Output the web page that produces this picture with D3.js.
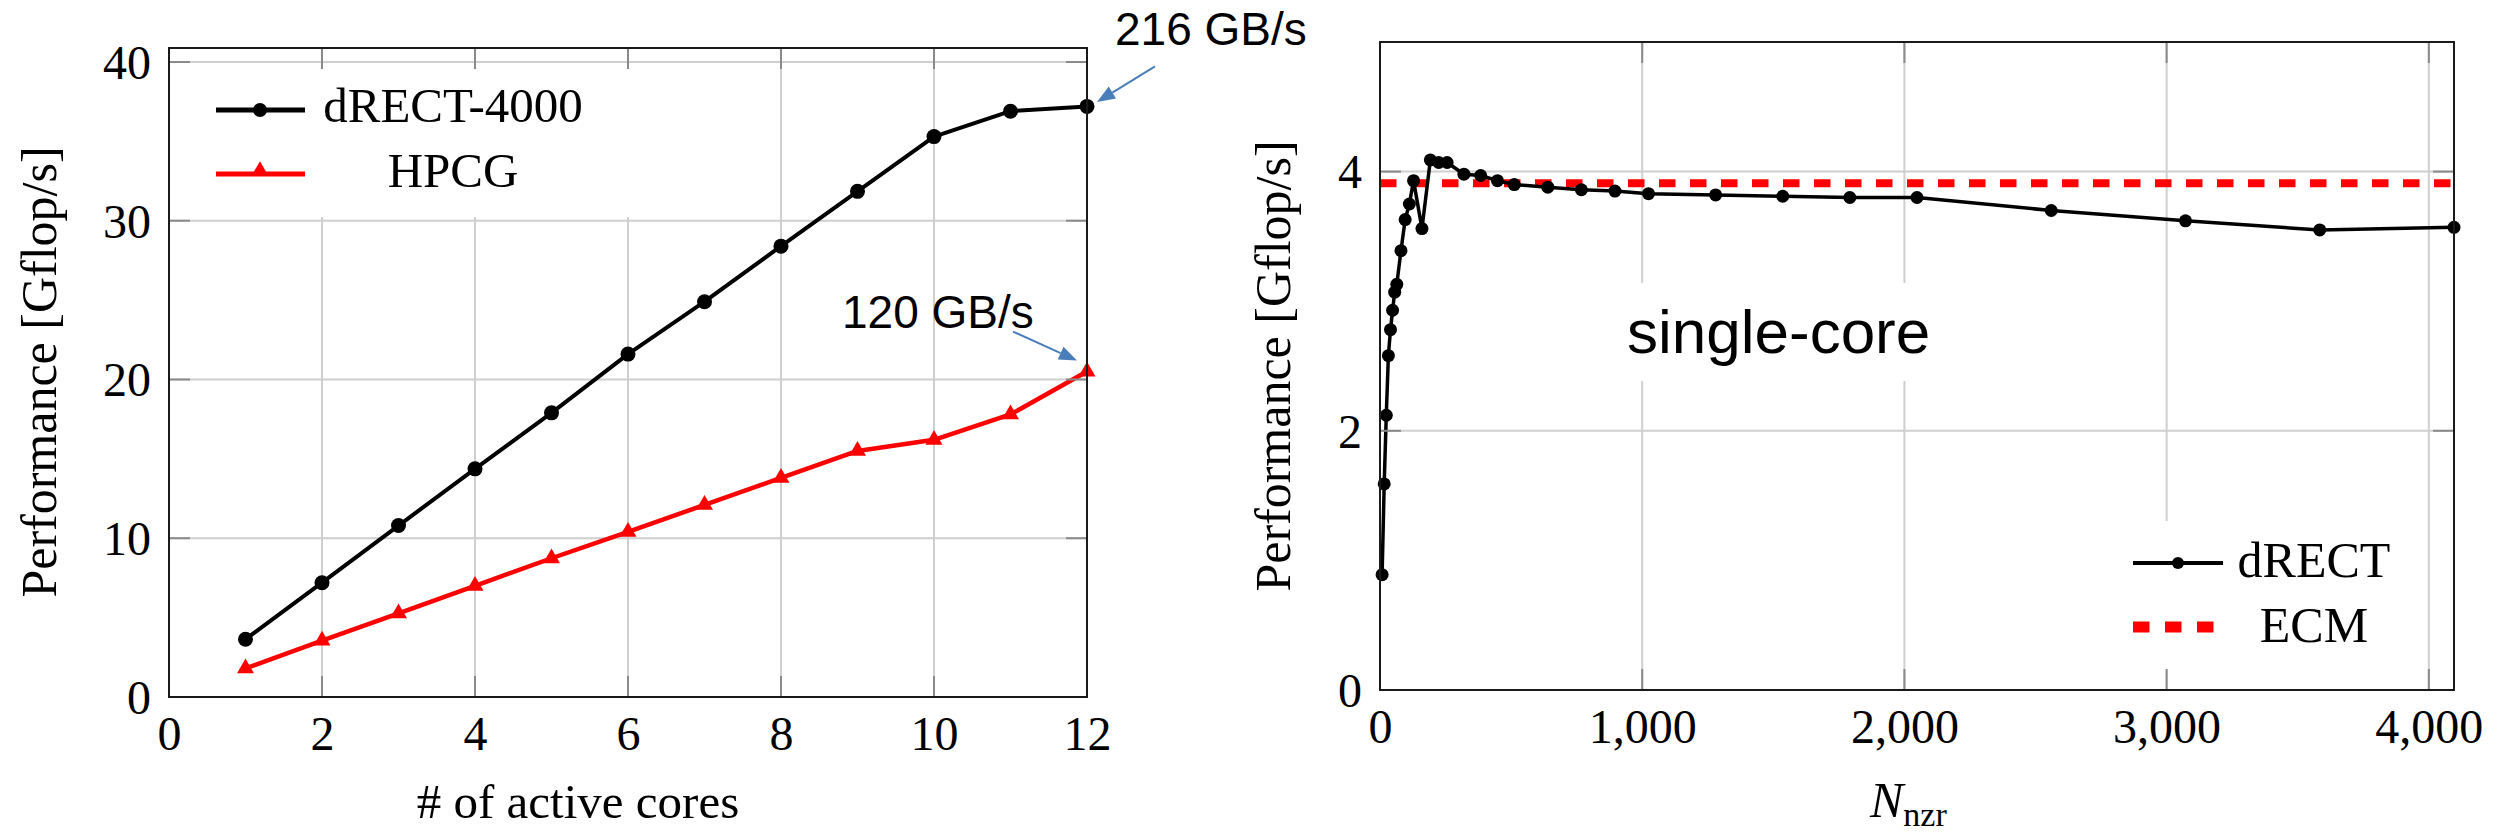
<!DOCTYPE html>
<html>
<head>
<meta charset="utf-8">
<script src="https://cdn.jsdelivr.net/npm/d3@7/dist/d3.min.js"></script>
<style>
  html, body { margin: 0; padding: 0; background: #fff; }
  svg { display: block; }
</style>
</head>
<body>
<script>
// ---------------- DATA ----------------
// Left chart: performance vs. number of active cores
const cores = [1, 2, 3, 4, 5, 6, 7, 8, 9, 10, 11, 12];
const drect4000 = [3.64, 7.2, 10.8, 14.37, 17.9, 21.6, 24.9, 28.4, 31.85, 35.3, 36.9, 37.2];
const hpcg = [1.8, 3.55, 5.27, 7.0, 8.74, 10.4, 12.1, 13.8, 15.5, 16.2, 17.8, 20.5];
const leftXTicks = [0, 2, 4, 6, 8, 10, 12];
const leftYTicks = [0, 10, 20, 30, 40];
const leftLegend = ["dRECT-4000", "HPCG"];
const leftAnnotations = ["216 GB/s", "120 GB/s"];

// Right chart: single-core performance vs N_nzr
const nnzr = [8, 16, 24, 32, 40, 48, 56, 64, 80, 96, 112, 128, 160, 192, 224, 256, 320, 384, 448, 512,
              640, 768, 896, 1024, 1280, 1536, 1792, 2048, 2560, 3072, 3584, 4096];
const drect = [0.89, 1.59, 2.12, 2.58, 2.78, 2.93, 3.07, 3.13, 3.39, 3.63, 3.75, 3.93, 3.56, 4.09, 4.07, 4.07,
               3.98, 3.97, 3.93, 3.90, 3.88, 3.86, 3.85, 3.83, 3.82, 3.81, 3.80, 3.80, 3.70, 3.62, 3.55, 3.57];
const ecm = 3.91;
const rightXTicks = [0, 1000, 2000, 3000, 4000];
const rightYTicks = [0, 2, 4];
const rightLegend = ["dRECT", "ECM"];
const rightNote = "single-core";

// ---------------- SETUP ----------------
const W = 2499, H = 839;
const SERIF = "'Liberation Serif', 'Times New Roman', serif";
const SANS = "'Liberation Sans', Arial, sans-serif";
const GRID = "#cfcfcf", TICK = "#8a8a8a", FRAME = "#1a1a1a", BLUE = "#4a7ebb";
const TICKLEN = 21;

const svg = d3.select("body").append("svg").attr("width", W).attr("height", H);
svg.append("rect").attr("width", W).attr("height", H).attr("fill", "#fff");

function frameAndTicks(g, x, y, xt, yt, fmtX) {
  const [x0, x1] = x.range(), [y0, y1] = y.range();
  const tg = g.append("g").attr("stroke", TICK).attr("stroke-width", 2);
  xt.forEach(v => {
    const px = x(v);
    if (Math.abs(px - x0) < 2 || Math.abs(px - x1) < 2) return;
    tg.append("line").attr("x1", px).attr("x2", px).attr("y1", y0).attr("y2", y0 - TICKLEN);
    tg.append("line").attr("x1", px).attr("x2", px).attr("y1", y1).attr("y2", y1 + TICKLEN);
  });
  yt.forEach(v => {
    const py = y(v);
    if (Math.abs(py - y0) < 2 || Math.abs(py - y1) < 2) return;
    tg.append("line").attr("x1", x0).attr("x2", x0 + TICKLEN).attr("y1", py).attr("y2", py);
    tg.append("line").attr("x1", x1).attr("x2", x1 - TICKLEN).attr("y1", py).attr("y2", py);
  });
  g.append("rect").attr("x", x0).attr("y", y1).attr("width", x1 - x0).attr("height", y0 - y1)
    .attr("fill", "none").attr("stroke", FRAME).attr("stroke-width", 2);

  const ax = g.append("g").attr("transform", `translate(0,${y0})`)
    .call(d3.axisBottom(x).tickValues(xt).tickFormat(fmtX).tickSize(0).tickPadding(0));
  ax.select(".domain").remove();
  ax.selectAll("text").attr("font-family", SERIF).attr("font-size", 48).attr("fill", "#000")
    .attr("dy", null).attr("y", 53);
  const ay = g.append("g").attr("transform", `translate(${x0},0)`)
    .call(d3.axisLeft(y).tickValues(yt).tickFormat(d3.format("d")).tickSize(0).tickPadding(0));
  ay.select(".domain").remove();
  ay.selectAll("text").attr("font-family", SERIF).attr("font-size", 48).attr("fill", "#000")
    .attr("x", -18).attr("dy", "0.34em");
}

function grid(g, x, y, xt, yt) {
  const [x0, x1] = x.range(), [y0, y1] = y.range();
  const gg = g.append("g").attr("stroke", GRID).attr("stroke-width", 2);
  xt.forEach(v => { const px = x(v); if (px > x0 + 2 && px < x1 - 2)
    gg.append("line").attr("x1", px).attr("x2", px).attr("y1", y0).attr("y2", y1); });
  yt.forEach(v => { const py = y(v); if (py < y0 - 2 && py > y1 + 2)
    gg.append("line").attr("x1", x0).attr("x2", x1).attr("y1", py).attr("y2", py); });
}

// ---------------- LEFT CHART ----------------
const xL = d3.scaleLinear().domain([0, 12]).range([169, 1087]);
const yL = d3.scaleLinear().domain([0, 40.88]).range([697, 48]);
const gL = svg.append("g");
grid(gL, xL, yL, leftXTicks, leftYTicks);
gL.append("rect").attr("x", 171).attr("y", 67).attr("width", 462).attr("height", 150).attr("fill", "#fff");

const lineL = d3.line().x((d, i) => xL(cores[i])).y(d => yL(d));
gL.append("path").datum(hpcg).attr("d", lineL).attr("fill", "none").attr("stroke", "#ff0000")
  .attr("stroke-width", 4.5).attr("stroke-linejoin", "round");
const tri = d3.symbol().type(d3.symbolTriangle).size(125);
gL.selectAll(".tri").data(hpcg).join("path").attr("d", tri)
  .attr("transform", (d, i) => `translate(${xL(cores[i])},${yL(d)})`).attr("fill", "#ff0000");
gL.append("path").datum(drect4000).attr("d", lineL).attr("fill", "none").attr("stroke", "#000")
  .attr("stroke-width", 4).attr("stroke-linejoin", "round");
gL.selectAll(".dot").data(drect4000).join("circle").attr("cx", (d, i) => xL(cores[i]))
  .attr("cy", d => yL(d)).attr("r", 7.5).attr("fill", "#000");

frameAndTicks(gL, xL, yL, leftXTicks, leftYTicks, d3.format("d"));

const legL = gL.append("g");
[[110, 122, "#000", "circle"], [174, 187, "#ff0000", "tri"]].forEach((s, i) => {
  legL.append("line").attr("x1", 216).attr("x2", 305).attr("y1", s[0]).attr("y2", s[0])
    .attr("stroke", s[2]).attr("stroke-width", 5);
  if (s[3] === "circle") legL.append("circle").attr("cx", 260).attr("cy", s[0]).attr("r", 7).attr("fill", "#000");
  else legL.append("path").attr("d", tri).attr("transform", `translate(260,${s[0] - 3})`).attr("fill", "#ff0000");
  legL.append("text").attr("x", 453).attr("y", s[1]).attr("text-anchor", "middle")
    .attr("font-family", SERIF).attr("font-size", 49).text(leftLegend[i]);
});

gL.append("text").attr("transform", "translate(56,372) rotate(-90)").attr("text-anchor", "middle")
  .attr("font-family", SERIF).attr("font-size", 50).text("Performance [Gflop/s]");
gL.append("text").attr("x", 578).attr("y", 818).attr("text-anchor", "middle")
  .attr("font-family", SERIF).attr("font-size", 49).text("# of active cores");

function arrow(g, sx, sy, tx, ty) {
  const ang = Math.atan2(ty - sy, tx - sx), L = 18, Wd = 7;
  const bx = tx - L * Math.cos(ang), by = ty - L * Math.sin(ang);
  g.append("line").attr("x1", sx).attr("y1", sy).attr("x2", bx).attr("y2", by)
    .attr("stroke", BLUE).attr("stroke-width", 2);
  const p = [[tx, ty], [bx + Wd * Math.sin(ang), by - Wd * Math.cos(ang)], [bx - Wd * Math.sin(ang), by + Wd * Math.cos(ang)]];
  g.append("polygon").attr("points", p.map(q => q.join(",")).join(" ")).attr("fill", BLUE);
}
const pTop = [xL(12), yL(drect4000[11])];
const pBot = [xL(12), yL(hpcg[11])];
arrow(gL, pTop[0] + 68, pTop[1] - 40, pTop[0] + 10, pTop[1] - 4.5);
arrow(gL, pBot[0] - 74, pBot[1] - 40, pBot[0] - 10, pBot[1] - 11);
gL.append("text").attr("x", 1115).attr("y", 45).attr("font-family", SANS).attr("font-size", 46)
  .text(leftAnnotations[0]);
gL.append("text").attr("x", 842).attr("y", 328).attr("font-family", SANS).attr("font-size", 46)
  .text(leftAnnotations[1]);

// ---------------- RIGHT CHART ----------------
const xR = d3.scaleLinear().domain([0, 4096]).range([1380, 2454]);
const yR = d3.scaleLinear().domain([0, 5]).range([690, 42]);
const gR = svg.append("g");
grid(gR, xR, yR, rightXTicks, rightYTicks);
gR.append("rect").attr("x", 1605).attr("y", 283).attr("width", 355).attr("height", 98).attr("fill", "#fff");
gR.append("rect").attr("x", 2120).attr("y", 521).attr("width", 300).attr("height", 150).attr("fill", "#fff");

gR.append("line").attr("x1", xR(0)).attr("x2", xR(4096)).attr("y1", yR(ecm)).attr("y2", yR(ecm))
  .attr("stroke", "#ff0000").attr("stroke-width", 8).attr("stroke-dasharray", "16.5 14.5");

const lineR = d3.line().x((d, i) => xR(nnzr[i])).y(d => yR(d));
gR.append("path").datum(drect).attr("d", lineR).attr("fill", "none").attr("stroke", "#000")
  .attr("stroke-width", 3.5).attr("stroke-linejoin", "round");
gR.selectAll(".dot").data(drect).join("circle").attr("cx", (d, i) => xR(nnzr[i]))
  .attr("cy", d => yR(d)).attr("r", 6.5).attr("fill", "#000");

frameAndTicks(gR, xR, yR, rightXTicks, rightYTicks, d3.format(","));

const legR = gR.append("g");
legR.append("line").attr("x1", 2133).attr("x2", 2223).attr("y1", 563).attr("y2", 563)
  .attr("stroke", "#000").attr("stroke-width", 4);
legR.append("circle").attr("cx", 2178).attr("cy", 563).attr("r", 6).attr("fill", "#000");
legR.append("line").attr("x1", 2133).attr("x2", 2214).attr("y1", 627).attr("y2", 627)
  .attr("stroke", "#ff0000").attr("stroke-width", 11).attr("stroke-dasharray", "16.5 15.5");
legR.append("text").attr("x", 2314).attr("y", 577).attr("text-anchor", "middle")
  .attr("font-family", SERIF).attr("font-size", 50).text(rightLegend[0]);
legR.append("text").attr("x", 2314).attr("y", 642).attr("text-anchor", "middle")
  .attr("font-family", SERIF).attr("font-size", 50).text(rightLegend[1]);

gR.append("text").attr("x", 1627).attr("y", 353).attr("font-family", SANS).attr("font-size", 62)
  .text(rightNote);

gR.append("text").attr("transform", "translate(1290,366) rotate(-90)").attr("text-anchor", "middle")
  .attr("font-family", SERIF).attr("font-size", 50).text("Performance [Gflop/s]");
const xl = gR.append("text").attr("x", 1870).attr("y", 817).attr("font-family", SERIF).attr("font-size", 50);
xl.append("tspan").attr("font-style", "italic").text("N");
xl.append("tspan").attr("font-size", 34).attr("dy", 9).text("nzr");
</script>
</body>
</html>
